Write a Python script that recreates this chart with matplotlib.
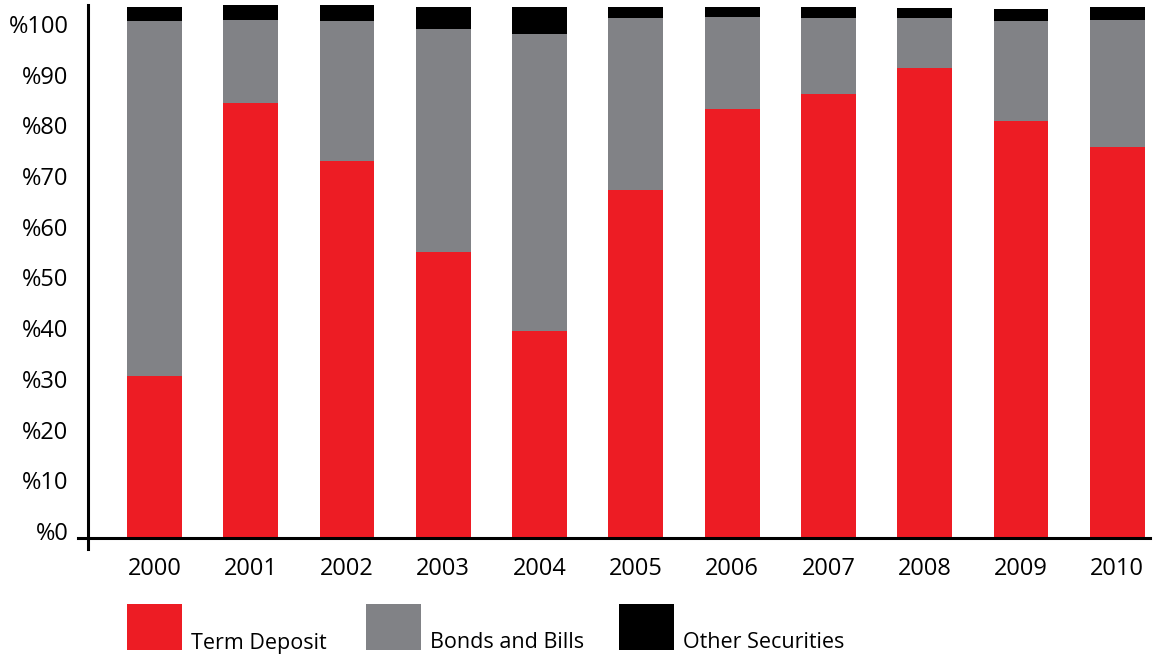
import matplotlib.pyplot as plt
import numpy as np
from matplotlib.patches import Rectangle
from matplotlib.transforms import ScaledTranslation, blended_transform_factory

# Datos (porcentajes)
anos = ["2000", "2001", "2002", "2003", "2004", "2005", "2006", "2007", "2008", "2009", "2010"]
term_deposit = [32.0, 85.8, 74.4, 56.4, 40.8, 68.6, 84.6, 87.6, 92.7, 82.2, 77.1]
bonds_bills = [70.0, 16.4, 27.6, 44.0, 58.6, 34.0, 18.2, 15.0, 9.9, 19.8, 25.1]
other_sec = [2.7, 2.9, 3.1, 4.3, 5.3, 2.1, 1.9, 2.1, 1.9, 2.3, 2.5]
series_names = ["Term Deposit", "Bonds and Bills", "Other Securities"]
yticks = list(range(0, 101, 10))

cores = ["#ED1C24", "#818286", "#000000"]

plt.rcParams['font.family'] = ['Open Sans', 'DejaVu Sans']

fig = plt.figure(figsize=(11.53, 6.57), dpi=100)
ax = fig.add_axes([88 / 1153, 108 / 657, 1062 / 1153, 544 / 657])

x = np.arange(len(anos))
largura = 0.57
base = np.zeros(len(anos))
for valores, cor in zip([term_deposit, bonds_bills, other_sec], cores):
    ax.bar(x, valores, largura, bottom=base, color=cor, linewidth=0)
    base = base + np.array(valores)

ax.set_xlim(-0.69, 10.34)
ax.set_ylim(-2.17, 105.1)

# Eixos
for s in ["top", "right", "bottom"]:
    ax.spines[s].set_visible(False)
ax.spines["left"].set_linewidth(2.2)
trans = blended_transform_factory(ax.transAxes, ax.transData)
ax.plot([-0.009, 1.0], [0, 0], color="black", lw=2.2, transform=trans, clip_on=False)

ax.set_xticks(x)
ax.set_xticklabels(anos, fontsize=17)
ax.set_yticks(yticks)
ax.set_yticklabels(["%" + str(v) for v in yticks], fontsize=17)
ax.tick_params(axis="both", length=0)
ax.tick_params(axis="y", pad=14)
ax.tick_params(axis="x", pad=6)

desloc = ScaledTranslation(0, 7 / 100, fig.dpi_scale_trans)
for lbl in ax.get_yticklabels():
    lbl.set_transform(lbl.get_transform() + desloc)

# Legenda manual
leg_x = [127, 366, 619]
for nome, cor, lx in zip(series_names, cores, leg_x):
    fig.add_artist(Rectangle((lx / 1153, (657 - 650) / 657), 55 / 1153, 46 / 657,
                             transform=fig.transFigure, color=cor, lw=0))
    fig.text((lx + 64) / 1153, (657 - 643) / 657, nome, fontsize=15.5, va="center", ha="left")

plt.savefig("out.png", dpi=100)
